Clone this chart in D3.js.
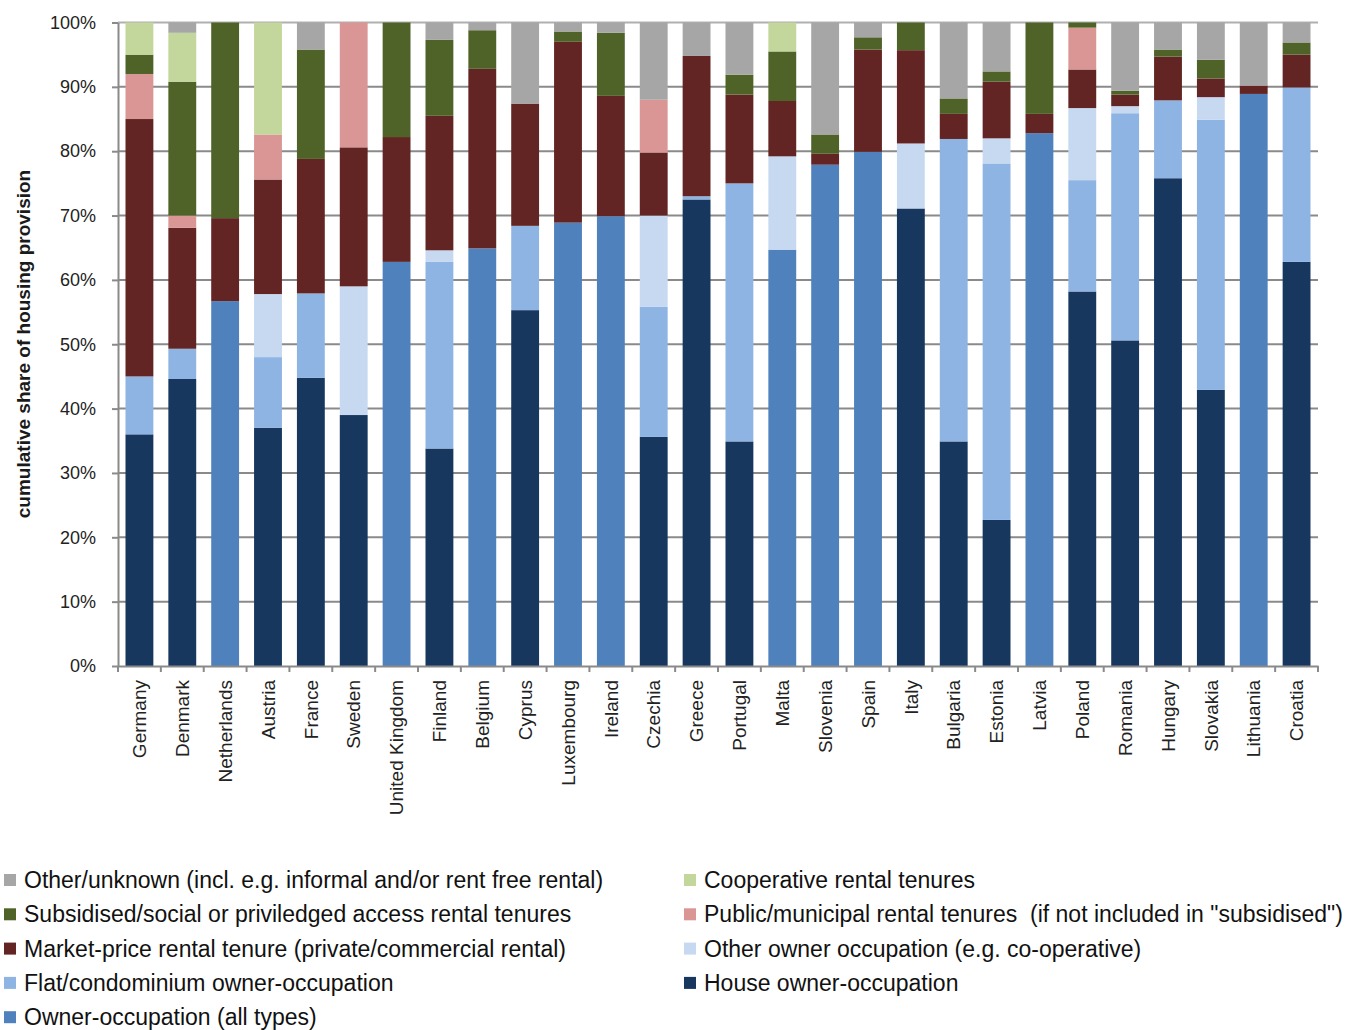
<!DOCTYPE html>
<html><head><meta charset="utf-8">
<script src="https://cdn.jsdelivr.net/npm/d3@7"></script>
<style>
html,body{margin:0;padding:0;background:#fff;}
svg{display:block;font-family:"Liberation Sans",Arial,sans-serif;}
</style></head>
<body><svg id="chart" width="1348" height="1030"></svg>
<script>
const countries = ["Germany","Denmark","Netherlands","Austria","France","Sweden","United Kingdom","Finland","Belgium","Cyprus","Luxembourg","Ireland","Czechia","Greece","Portugal","Malta","Slovenia","Spain","Italy","Bulgaria","Estonia","Latvia","Poland","Romania","Hungary","Slovakia","Lithuania","Croatia"];

const houseOwner   = [36,44.6,0,37,44.8,39,0,33.8,0,55.3,0,0,35.6,72.5,34.9,0,0,0,71.1,34.9,22.7,0,58.2,50.6,75.8,42.9,0,62.8];
const ownerAll     = [0,0,56.7,0,0,0,62.8,0,64.9,0,68.9,69.9,0,0,0,64.7,77.9,79.9,0,0,0,82.8,0,0,0,0,88.9,0];
const flatOwner    = [9,4.7,0,11,13.1,0,0,29,0,13.1,0,0,20.2,0.5,40.1,0,0,0,0,47,55.4,0,17.3,35.3,12.1,42,0,27.1];
const otherOwner   = [0,0,0,9.8,0,20,0,1.8,0,0,0,0,14.2,0,0,14.5,0,0,10.1,0,3.9,0,11.2,1.1,0,3.5,0,0];
const marketRental = [40,18.8,12.9,17.8,20.9,21.6,19.4,20.9,27.9,19,28.1,18.7,9.8,21.8,13.8,8.6,1.7,15.9,14.5,3.9,8.8,3,6,1.8,6.8,2.9,1.3,5.1];
const publicRental = [7,1.9,0,7,0,19.4,0,0,0,0,0,0,8.2,0,0,0,0,0,0,0,0,0,6.5,0,0,0,0,0];
const subsidised   = [3,20.8,30.4,0,17,0,17.8,11.8,6,0,1.6,9.8,0,0,3.1,7.7,3,1.9,4.3,2.4,1.6,14.2,0.8,0.6,1.1,2.9,0,1.9];
const cooperative  = [5,7.6,0,17.4,0,0,0,0,0,0,0,0,0,0,0,4.5,0,0,0,0,0,0,0,0,0,0,0,0];
const otherUnknown = [0,1.6,0,0,4.2,0,0,2.7,1.2,12.6,1.4,1.6,12,5.2,8.1,0,17.4,2.3,0,11.8,7.6,0,0,10.6,4.2,5.8,9.8,3.1];

const yTicks = [0,10,20,30,40,50,60,70,80,90,100];

const seriesKeys = ["house","ownerAll","flat","otherOwn","market","public","subsid","coop","other"];
const seriesLabels = {
  other:"Other/unknown (incl. e.g. informal and/or rent free rental)",
  coop:"Cooperative rental tenures",
  subsid:"Subsidised/social or priviledged access rental tenures",
  public:"Public/municipal rental tenures  (if not included in \"subsidised\")",
  market:"Market-price rental tenure (private/commercial rental)",
  otherOwn:"Other owner occupation (e.g. co-operative)",
  flat:"Flat/condominium owner-occupation",
  house:"House owner-occupation",
  ownerAll:"Owner-occupation (all types)"
};
const colors = {
  house:"#17375e", ownerAll:"#4f81bd", flat:"#8eb4e3", otherOwn:"#c6d9f1",
  market:"#632523", public:"#d99694", subsid:"#4f6228", coop:"#c3d69b", other:"#a6a6a6"
};

const table = countries.map((c,i)=>({country:c, house:houseOwner[i], ownerAll:ownerAll[i], flat:flatOwner[i],
  otherOwn:otherOwner[i], market:marketRental[i], public:publicRental[i], subsid:subsidised[i],
  coop:cooperative[i], other:otherUnknown[i]}));

const svg = d3.select("#chart");
const L=118, R=1318, T=22.5, B=666;
const x = d3.scaleBand().domain(countries).range([L,R]).paddingInner(0.35).paddingOuter(0.175);
const y = d3.scaleLinear().domain([0,100]).range([B,T]);

// gridlines
svg.append("g").selectAll("line").data(yTicks.filter(d=>d>0)).join("line")
  .attr("x1",L).attr("x2",R).attr("y1",d=>y(d)).attr("y2",d=>y(d))
  .attr("stroke",d=>d===100?"#b0b0b0":"#8a8a8a").attr("stroke-width",2);

// bars
const stack = d3.stack().keys(seriesKeys)(table);
svg.append("g").selectAll("g").data(stack).join("g").attr("fill",d=>colors[d.key])
  .selectAll("rect").data(d=>d).join("rect")
  .attr("x",d=>x(d.data.country)).attr("width",x.bandwidth())
  .attr("y",d=>y(d[1])).attr("height",d=>Math.max(0,y(d[0])-y(d[1])));

// y axis
const yAxis = d3.axisLeft(y).tickValues(yTicks).tickFormat(d=>d+"%").tickSize(6).tickSizeOuter(0);
const gy = svg.append("g").attr("transform",`translate(${L},0)`).call(yAxis);
gy.select(".domain").attr("stroke","#8a8a8a").attr("stroke-width",2);
gy.selectAll(".tick line").attr("stroke","#8a8a8a").attr("stroke-width",2);
gy.selectAll(".tick text").attr("x",-22).attr("font-size",18).attr("fill","#222")
  .attr("font-family","Liberation Sans, Arial, sans-serif");

// x axis
const xAxis = d3.axisBottom(x).tickSize(0).tickSizeOuter(0);
const gx = svg.append("g").attr("transform",`translate(0,${B})`).call(xAxis);
gx.select(".domain").attr("stroke","#8a8a8a").attr("stroke-width",2);
gx.selectAll(".tick text").attr("font-size",19).attr("fill","#222")
  .attr("font-family","Liberation Sans, Arial, sans-serif")
  .attr("text-anchor","end").attr("dy","0.35em")
  .attr("transform","translate(0,14) rotate(-90)").attr("x",0).attr("y",0);
// category boundary ticks
const bounds = countries.map(c=>x(c)-x.step()*x.paddingInner()/2).concat([R]);
svg.append("g").selectAll("line").data(bounds).join("line")
  .attr("x1",d=>d).attr("x2",d=>d).attr("y1",B).attr("y2",B+6)
  .attr("stroke","#8a8a8a").attr("stroke-width",2);

// y title
svg.append("text").attr("transform","translate(30,344) rotate(-90)")
  .attr("text-anchor","middle").attr("font-size",19).attr("font-weight","bold").attr("fill","#1a1a1a")
  .text("cumulative share of housing provision");

// legend
const legPos = [
  {k:"other",c:0,r:0},{k:"coop",c:1,r:0},
  {k:"subsid",c:0,r:1},{k:"public",c:1,r:1},
  {k:"market",c:0,r:2},{k:"otherOwn",c:1,r:2},
  {k:"flat",c:0,r:3},{k:"house",c:1,r:3},
  {k:"ownerAll",c:0,r:4}
];
const colX=[4,684], rowY0=880, rowH=34.3;
const lg = svg.append("g").selectAll("g").data(legPos).join("g")
  .attr("transform",d=>`translate(${colX[d.c]},${rowY0+d.r*rowH})`);
lg.append("rect").attr("x",0).attr("y",-6).attr("width",12).attr("height",12).attr("fill",d=>colors[d.k]);
lg.append("text").attr("x",20).attr("y",0).attr("dy","0.35em").attr("font-size",23).attr("fill","#111")
  .style("white-space","pre").attr("xml:space","preserve")
  .text(d=>seriesLabels[d.k]);
</script></body></html>
